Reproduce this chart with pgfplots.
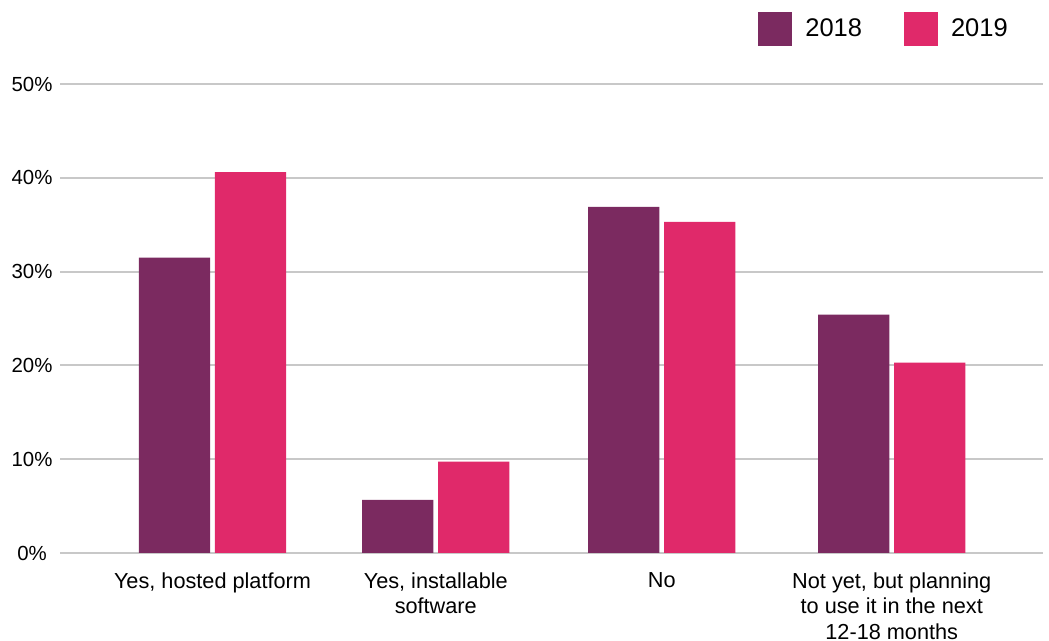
\documentclass[border=0pt]{standalone}
\usepackage{pgfplots}
\pgfplotsset{compat=1.18}
\usepackage{fontspec}
\setmainfont{Liberation Sans}
\definecolor{c2018}{HTML}{7B2A60}
\definecolor{c2019}{HTML}{E0296A}
\definecolor{gridc}{HTML}{C8C8C8}
\definecolor{basec}{HTML}{333333}
\begin{document}
\begin{tikzpicture}
\useasboundingbox (-30pt,-44pt) rectangle (494.5pt,276.5pt);
\begin{axis}[
  at={(0pt,0pt)}, anchor=south west,
  scale only axis, width=491.5pt, height=234.5pt,
  xmin=-0.6736, xmax=3.668, ymin=0, ymax=50,
  axis line style={draw=none},
  major tick length=0pt,
  ytick={10,20,30,40,50},
  yticklabels={10\%,20\%,30\%,40\%,50\%},
  extra y ticks={0},
  extra y tick labels={0\%},
  extra y tick style={grid style={basec, line width=1.2pt}},
  ymajorgrids,
  major grid style={gridc, line width=1pt},
  yticklabel style={anchor=center, xshift=-14pt, inner sep=0pt, font=\fontsize{10.2}{12}\selectfont},
  xtick={0,0.986,1.984,3},
  xticklabels={{Yes, hosted platform},{Yes, installable\\software},{No},{Not yet, but planning\\to use it in the next\\12-18 months}},
  xticklabel style={align=center, anchor=north, inner sep=0pt, yshift=-9.8pt, font=\fontsize{10.85}{12.6}\selectfont},
  /pgf/number format/assume math mode=true,
  legend columns=2,
  legend image code/.code={\fill[#1] (0pt,-8.5pt) rectangle (17pt,8.5pt);},
  legend style={at={(0.710,1.117)}, anchor=west, draw=none, fill=none, inner sep=0pt,
    font=\fontsize{12.75}{15}\selectfont,
    nodes={inner xsep=0pt, inner ysep=0pt},
    /tikz/every odd column/.append style={column sep=6.5pt},
    /tikz/every even column/.append style={column sep=21pt}},
]
\addplot[ybar, bar width=35.7pt, bar shift=-19pt, fill=c2018, draw=none]
  coordinates {(0,31.5) (0.986,5.65) (1.984,36.9) (3,25.4)};
\addlegendentry{2018}
\addplot[ybar, bar width=35.7pt, bar shift=19pt, fill=c2019, draw=none]
  coordinates {(0,40.6) (0.986,9.75) (1.984,35.3) (3,20.3)};
\addlegendentry{2019}
\end{axis}
\end{tikzpicture}
\end{document}
